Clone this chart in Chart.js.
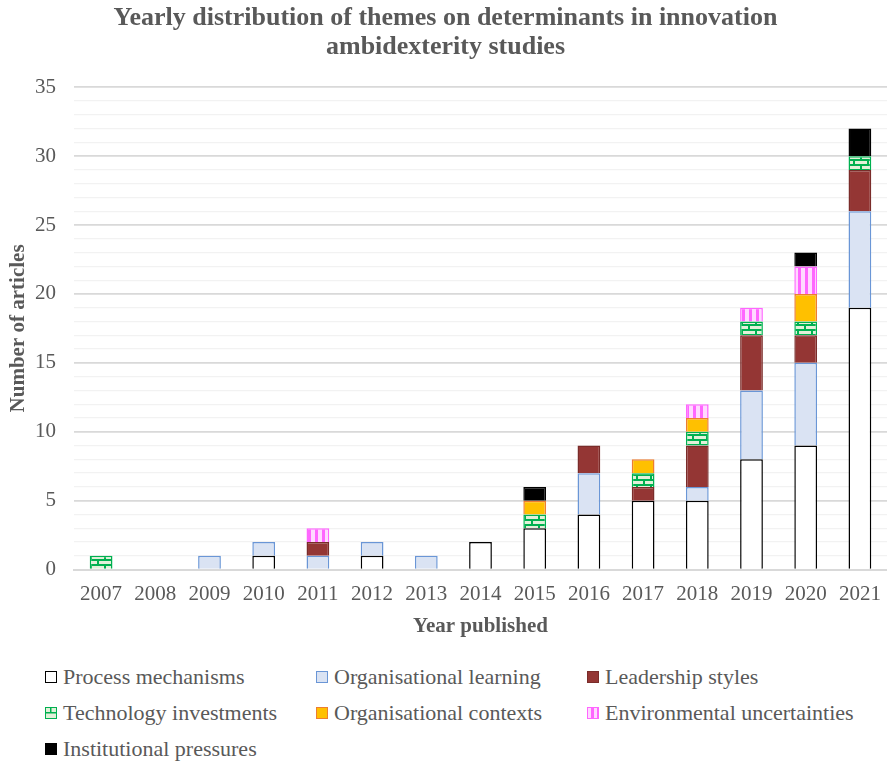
<!DOCTYPE html>
<html>
<head>
<meta charset="utf-8">
<script src="https://cdn.jsdelivr.net/npm/chart.js@4/dist/chart.umd.min.js"></script>
<style>
  body { margin: 0; background: #fff; font-family: "Liberation Serif", serif; }
  #wrap { position: relative; width: 887px; height: 641px; }
  #legend { position: absolute; left: 45px; top: 664px; display: grid; grid-template-columns: 271px 271px 300px; row-gap: 11px; font-size: 22px; line-height: 25px; color: #595959; }
  .item { display: flex; align-items: center; white-space: nowrap; }
  .sw { width: 12px; height: 12px; margin-right: 6px; box-sizing: border-box; }
</style>
</head>
<body>
<div id="wrap"><canvas id="chart"></canvas></div>
<div id="legend"></div>
<script>
var years = ['2007','2008','2009','2010','2011','2012','2013','2014','2015','2016','2017','2018','2019','2020','2021'];
var process_mechanisms      = [0,0,0,1,0,1,0,2,3,4,5,5,8,9,19];
var organisational_learning = [0,0,1,1,1,1,1,0,0,3,0,1,5,6,7];
var leadership_styles       = [0,0,0,0,1,0,0,0,0,2,1,3,4,2,3];
var technology_investments  = [1,0,0,0,0,0,0,0,1,0,1,1,1,1,1];
var organisational_contexts = [0,0,0,0,0,0,0,0,1,0,1,1,0,2,0];
var environmental_uncert    = [0,0,0,0,1,0,0,0,0,0,0,1,1,2,0];
var institutional_pressures = [0,0,0,0,0,0,0,0,1,0,0,0,0,1,2];

// brick pattern for technology investments
function brickPattern() {
  var c = document.createElement('canvas');
  c.width = 14; c.height = 10;
  var g = c.getContext('2d');
  g.fillStyle = '#00B050';
  g.fillRect(0, 0, 14, 10);
  g.fillStyle = '#E2F0D9';
  g.fillRect(1, 1, 12, 3);
  g.fillRect(0, 6, 6, 3);
  g.fillRect(8, 6, 6, 3);
  return g.createPattern(c, 'repeat');
}
// vertical stripes for environmental uncertainties
function stripePattern() {
  var c = document.createElement('canvas');
  c.width = 7; c.height = 4;
  var g = c.getContext('2d');
  g.fillStyle = '#FFD9FF';
  g.fillRect(0, 0, 7, 4);
  g.fillStyle = '#FF66FF';
  g.fillRect(0, 0, 3, 4);
  return g.createPattern(c, 'repeat');
}

var series = [
  { label: 'Process mechanisms', data: process_mechanisms, bg: '#FFFFFF', border: '#000000', css: '#fff' },
  { label: 'Organisational learning', data: organisational_learning, bg: '#DAE3F3', border: '#6A96D6', css: '#DAE3F3' },
  { label: 'Leadership styles', data: leadership_styles, bg: '#943634', border: '#7A2C2A', css: '#943634' },
  { label: 'Technology investments', data: technology_investments, bg: brickPattern(), border: '#00B050',
    css: 'linear-gradient(#00B050,#00B050) 0 4px/100% 1.5px no-repeat, linear-gradient(#00B050,#00B050) 4px 0/1.5px 4px no-repeat, #E2F0D9' },
  { label: 'Organisational contexts', data: organisational_contexts, bg: '#FFC000', border: '#ED7D31', css: '#FFC000' },
  { label: 'Environmental uncertainties', data: environmental_uncert, bg: stripePattern(), border: '#FF66FF',
    css: 'repeating-linear-gradient(90deg,#FFD9FF 0 3px,#FF66FF 3px 6px)' },
  { label: 'Institutional pressures', data: institutional_pressures, bg: '#000000', border: '#000000', css: '#000' }
];

var datasets = series.map(function(s) {
  return {
    label: s.label,
    data: s.data,
    backgroundColor: s.bg,
    borderColor: s.border,
    borderWidth: 1.5,
    barPercentage: 0.84,
    categoryPercentage: 0.5
  };
});

Chart.defaults.font.family = '"Liberation Serif", serif';
Chart.defaults.color = '#595959';

new Chart(document.getElementById('chart'), {
  type: 'bar',
  data: { labels: years, datasets: datasets },
  options: {
    responsive: true,
    maintainAspectRatio: false,
    animation: false,
    layout: { padding: { left: 4, right: 0, top: 0, bottom: 0 } },
    plugins: {
      legend: { display: false },
      tooltip: { enabled: false },
      title: {
        display: true,
        text: ['Yearly distribution of themes on determinants in innovation', 'ambidexterity studies'],
        font: { size: 26, weight: 'bold', lineHeight: 1.12 },
        color: '#595959',
        padding: { top: 4, bottom: 25 }
      }
    },
    scales: {
      x: {
        stacked: true,
        grid: { display: false },
        border: { color: '#d9d9d9', width: 2 },
        ticks: { font: { size: 21 }, color: '#595959', padding: 4 },
        title: { display: true, text: 'Year published', font: { size: 21, weight: 'bold' }, color: '#595959', padding: { top: 3, bottom: 2 } }
      },
      y: {
        stacked: true,
        min: 0,
        max: 35,
        border: { display: false },
        afterFit: function(scale) { scale.width = 70; },
        grid: {
          drawTicks: false,
          color: function(ctx) { return ctx.tick.value % 5 === 0 ? '#d9d9d9' : '#f2f2f2'; },
          lineWidth: function(ctx) { return ctx.tick.value % 5 === 0 ? 1.8 : 1.3; }
        },
        ticks: {
          stepSize: 1,
          autoSkip: false,
          font: { size: 21 },
          color: '#595959',
          padding: 18,
          callback: function(v) { return v % 5 === 0 ? v : ''; }
        },
        title: { display: true, text: 'Number of articles', font: { size: 21, weight: 'bold' }, color: '#595959', padding: { top: 2, bottom: 4 } }
      }
    }
  }
});

var legend = document.getElementById('legend');
series.forEach(function(s) {
  var d = document.createElement('div');
  d.className = 'item';
  var sw = document.createElement('span');
  sw.className = 'sw';
  sw.style.background = s.css;
  sw.style.border = '1.5px solid ' + s.border;
  d.appendChild(sw);
  d.appendChild(document.createTextNode(s.label));
  legend.appendChild(d);
});
</script>
</body>
</html>
